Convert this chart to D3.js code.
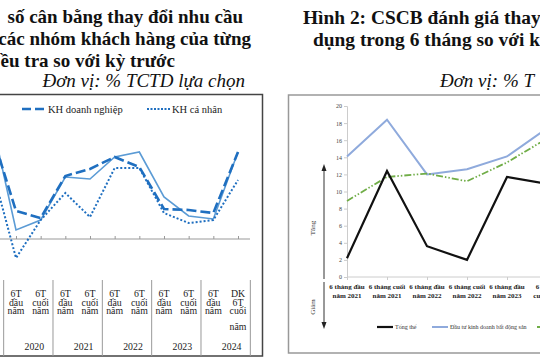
<!DOCTYPE html>
<html><head><meta charset="utf-8">
<script src="https://cdn.jsdelivr.net/npm/d3@7"></script>
<style>html,body{margin:0;padding:0;background:#fff;overflow:hidden}svg{display:block}</style>
</head><body>
<svg id="c" width="540" height="360"></svg>
<script>
// ---------- Left chart data ----------
const leftCatLines = [["6T","cuối","năm"],["6T","đầu","năm"],["6T","cuối","năm"],["6T","đầu","năm"],["6T","cuối","năm"],["6T","đầu","năm"],["6T","cuối","năm"],["6T","đầu","năm"],["6T","cuối","năm"],["6T","đầu","năm"],["DK","6T","cuối","năm"]];
const leftYears = ["2019","2020","2021","2022","2023","2024"];
const leftYearStart = [0,1,3,5,7,9];
const leftYearEnd   = [0,2,4,6,8,10];
const seriesChung = [60, 4.5, 9.5, 31, 30, 41, 43.5, 21, 11.5, 10, 43.5];
const seriesDN    = [53.5, 14, 10.5, 31.5, 35, 41, 36, 15, 14.5, 13, 43.5];
const seriesCN    = [36.5, -9.5, 9.5, 23, 11, 35.5, 35.5, 13, 8, 9.5, 29.5];
const leftLegend = ["KH doanh nghiệp","KH cá nhân"];
const leftTitle = ["số cân bằng thay đổi nhu cầu","các nhóm khách hàng của từng","ều tra so với kỳ trước"];
const leftUnit = "Đơn vị: % TCTD lựa chọn";

// ---------- Right chart data ----------
const rightCats = [["6 tháng đầu","năm 2021"],["6 tháng cuối","năm 2021"],["6 tháng đầu","năm 2022"],["6 tháng cuối","năm 2022"],["6 tháng đầu","năm 2023"],["6 tháng","cuối năm","2023"]];
const rightTongThe = [2.2, 12.4, 3.6, 2.0, 11.7, 10.9];
const rightBDS     = [14.1, 18.4, 12.0, 12.6, 14.1, 17.4];
const rightTieuDung= [8.9, 11.7, 12.1, 11.2, 13.4, 16.2];
const rightTicks = [0,2,4,6,8,10,12,14,16,18,20];
const rightLegend = ["Tổng thể","Đầu tư kinh doanh bất động sản"];
const rightTitle = ["Hình 2: CSCB đánh giá thay","dụng trong 6 tháng so với k"];
const rightUnit = "Đơn vị: % T";

const svg = d3.select("#c");
const serif = "'Liberation Serif','DejaVu Serif',serif";

// ================= LEFT =================
const L = svg.append("g");
[[243,23],[251,45],[175,67]].forEach((p,i)=>{
  L.append("text").attr("x",p[0]).attr("y",p[1]).attr("text-anchor","end").attr("font-family",serif).attr("font-weight","bold").attr("font-size",19).attr("fill","#111").text(leftTitle[i]);
});
L.append("text").attr("x",245).attr("y",87).attr("text-anchor","end").attr("font-family",serif).attr("font-style","italic").attr("font-size",19).attr("fill","#111").text(leftUnit);

// frame
L.append("path").attr("d","M-10,94.5H262.5V356H-10").attr("fill","none").attr("stroke","#444").attr("stroke-width",1.5);

const xL = d3.scaleLinear().domain([0,10]).range([-8.67,238]);
const yL = d3.scaleLinear().domain([-20,60]).range([279,119]);

// axis
const axL = d3.axisBottom(xL).tickValues(d3.range(0,11)).tickSize(-3).tickFormat("");
const gAx = L.append("g").attr("transform",`translate(0,${yL(0)})`).call(axL);
gAx.select(".domain").remove();
gAx.selectAll("line").attr("stroke","#999");
L.append("line").attr("x1",-10).attr("x2",250).attr("y1",yL(0)).attr("y2",yL(0)).attr("stroke","#999");

const lineL = d3.line().x((d,i)=>xL(i)).y(d=>yL(d));
L.append("path").datum(seriesChung).attr("d",lineL).attr("fill","none").attr("stroke","#5B9BD5").attr("stroke-width",1.6);
L.append("path").datum(seriesDN).attr("d",lineL).attr("fill","none").attr("stroke","#1F6FC0").attr("stroke-width",2.6).attr("stroke-dasharray","10,4");
L.append("path").datum(seriesCN).attr("d",lineL).attr("fill","none").attr("stroke","#1F6FC0").attr("stroke-width",2).attr("stroke-dasharray","2,2");

// legend
const lg = L.append("g").attr("font-family",serif).attr("font-size",10.5).attr("fill","#222");
lg.append("line").attr("x1",22).attr("x2",47).attr("y1",109).attr("y2",109).attr("stroke","#1F6FC0").attr("stroke-width",2.6).attr("stroke-dasharray","9,4");
lg.append("text").attr("x",48).attr("y",113).text(leftLegend[0]);
lg.append("line").attr("x1",147).attr("x2",171).attr("y1",109).attr("y2",109).attr("stroke","#1F6FC0").attr("stroke-width",2).attr("stroke-dasharray","2,1.5");
lg.append("text").attr("x",172).attr("y",113).text(leftLegend[1]);

// bottom table (first category lies outside the visible window)
const step = xL(1)-xL(0);
const tbl = L.append("g").attr("font-family",serif).attr("font-size",9.8).attr("fill","#222").attr("text-anchor","middle");
leftCatLines.forEach((lines,i)=>{
  if (i===0) return;
  const t = tbl.append("text").attr("x",xL(i)).attr("y",297);
  lines.forEach((s,j)=>{
    t.append("tspan").attr("x",xL(i)).attr("dy", j===0 ? 0 : (j===3 ? 16 : 8.5)).text(s);
  });
});
leftYears.forEach((y,k)=>{
  const a = xL(leftYearStart[k])-step/2, b = xL(leftYearEnd[k])+step/2;
  if (k>0) tbl.append("text").attr("x",(a+b)/2+6).attr("y",350).text(y);
  tbl.append("line").attr("x1",b).attr("x2",b).attr("y1",280).attr("y2",356).attr("stroke","#999");
});

// ================= RIGHT =================
const R = svg.append("g");
R.append("text").attr("x",303).attr("y",24).attr("font-family",serif).attr("font-weight","bold").attr("font-size",19.4).attr("fill","#111").text(rightTitle[0]);
R.append("text").attr("x",313).attr("y",46).attr("font-family",serif).attr("font-weight","bold").attr("font-size",19.4).attr("fill","#111").text(rightTitle[1]);
R.append("text").attr("x",440).attr("y",87).attr("font-family",serif).attr("font-style","italic").attr("font-size",19).attr("fill","#111").text(rightUnit);

R.append("path").attr("d","M550,95H288.5V353H550").attr("fill","none").attr("stroke","#999").attr("stroke-width",1.5);

const xR = d3.scaleLinear().domain([0,5]).range([347,547]);
const yR = d3.scaleLinear().domain([0,20]).range([277,106]);

const axY = d3.axisLeft(yR).tickValues(rightTicks).tickSize(3).tickPadding(2);
const gy = R.append("g").attr("transform",`translate(${xR(0)},0)`).call(axY);
gy.select(".domain").attr("stroke","#ccc");
gy.selectAll("line").attr("stroke","#ccc");
gy.selectAll("text").attr("font-family",serif).attr("font-size",6).attr("fill","#444");

const axX = d3.axisBottom(xR).tickValues(d3.range(0,6)).tickSize(3).tickFormat("");
const gx = R.append("g").attr("transform",`translate(0,${yR(0)})`).call(axX);
gx.select(".domain").remove();
gx.selectAll("line").attr("stroke","#ccc");
R.append("line").attr("x1",xR(0)).attr("x2",545).attr("y1",yR(0)).attr("y2",yR(0)).attr("stroke","#ccc");

const xl = R.append("g").attr("font-family",serif).attr("font-weight","bold").attr("font-size",7).attr("fill","#222").attr("text-anchor","middle");
rightCats.forEach((lines,i)=>{
  const t = xl.append("text").attr("x",xR(i)).attr("y",289);
  lines.forEach((s,j)=>t.append("tspan").attr("x",xR(i)).attr("dy", j===0?0:8.5).text(s));
});

const lineR = d3.line().x((d,i)=>xR(i)).y(d=>yR(d));
R.append("path").datum(rightBDS).attr("d",lineR).attr("fill","none").attr("stroke","#8FAADC").attr("stroke-width",2);
R.append("path").datum(rightTieuDung).attr("d",lineR).attr("fill","none").attr("stroke","#70AD47").attr("stroke-width",1.8).attr("stroke-dasharray","7,2,1.5,2,1.5,2");
R.append("path").datum(rightTongThe).attr("d",lineR).attr("fill","none").attr("stroke","#111").attr("stroke-width",2.2);

// Tăng / Giảm arrows
R.append("line").attr("x1",324).attr("x2",324).attr("y1",279).attr("y2",170).attr("stroke","#333").attr("stroke-width",1);
R.append("path").attr("d","M321.5,171L324,164L326.5,171Z").attr("fill","#222");
R.append("line").attr("x1",324).attr("x2",324).attr("y1",282).attr("y2",323).attr("stroke","#333").attr("stroke-width",1);
R.append("path").attr("d","M321.5,322L324,329L326.5,322Z").attr("fill","#222");
R.append("text").attr("transform","translate(315,228) rotate(-90)").attr("text-anchor","middle").attr("font-family",serif).attr("font-size",7).attr("fill","#333").text("Tăng");
R.append("text").attr("transform","translate(315,307) rotate(-90)").attr("text-anchor","middle").attr("font-family",serif).attr("font-size",7).attr("fill","#333").text("Giảm");

// right legend
const rl = R.append("g").attr("font-family",serif).attr("font-size",6).attr("fill","#333");
rl.append("line").attr("x1",377).attr("x2",393).attr("y1",327).attr("y2",327).attr("stroke","#111").attr("stroke-width",2.2);
rl.append("text").attr("x",395).attr("y",329).text(rightLegend[0]);
rl.append("line").attr("x1",432).attr("x2",448).attr("y1",327).attr("y2",327).attr("stroke","#8FAADC").attr("stroke-width",2);
rl.append("text").attr("x",450).attr("y",329).text(rightLegend[1]);
rl.append("line").attr("x1",537).attr("x2",553).attr("y1",327).attr("y2",327).attr("stroke","#70AD47").attr("stroke-width",1.8).attr("stroke-dasharray","7,2,1.5,2");
</script>
</body></html>
